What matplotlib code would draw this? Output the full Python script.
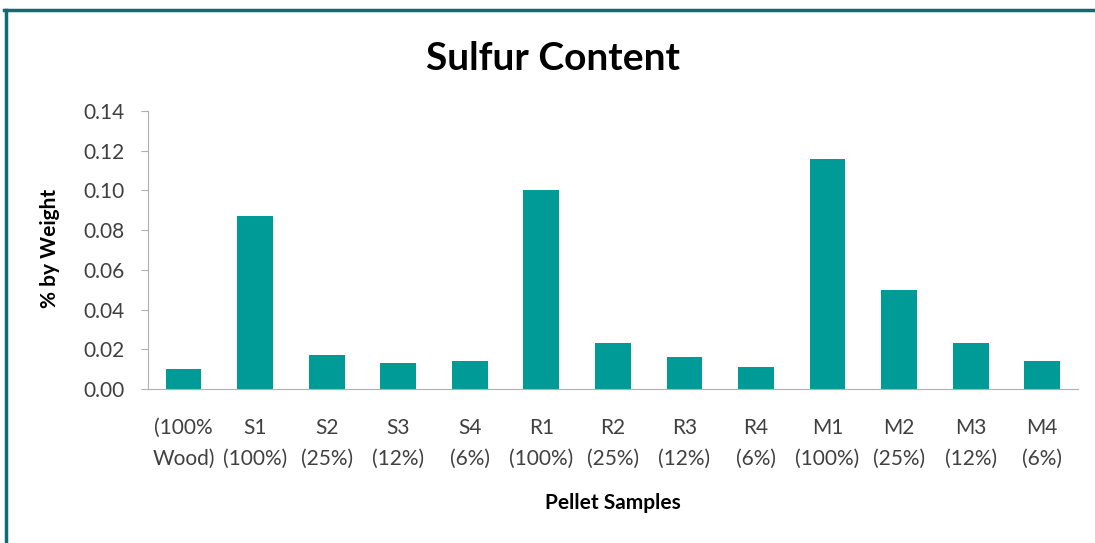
import numpy as np
import matplotlib.pyplot as plt
from matplotlib.lines import Line2D

# Sample labels and sulfur content (% by weight)
samples = ["(100%\nWood)", "S1\n(100%)", "S2\n(25%)", "S3\n(12%)", "S4\n(6%)",
           "R1\n(100%)", "R2\n(25%)", "R3\n(12%)", "R4\n(6%)",
           "M1\n(100%)", "M2\n(25%)", "M3\n(12%)", "M4\n(6%)"]
sulfur = [0.010, 0.087, 0.017, 0.013, 0.014,
          0.100, 0.023, 0.016, 0.011,
          0.116, 0.050, 0.023, 0.014]
yticks = [0.00, 0.02, 0.04, 0.06, 0.08, 0.10, 0.12, 0.14]

plt.rcParams['font.family'] = ['Lato', 'DejaVu Sans']

fig = plt.figure(figsize=(10.95, 5.43), dpi=100)
ax = fig.add_axes([0.135, 0.2836, 0.8495, 0.512])

x = np.arange(len(samples))
ax.bar(x, sulfur, width=0.5, color='#009b97')

ax.set_xlim(-0.5, len(samples) - 0.5)
ax.set_ylim(0, 0.14)
ax.set_yticks(yticks)
ax.set_yticklabels([f"{v:.2f}" for v in yticks])
ax.set_xticks(x)
ax.set_xticklabels(samples, linespacing=1.65)

for s in ['top', 'right']:
    ax.spines[s].set_visible(False)
for s in ['left', 'bottom']:
    ax.spines[s].set_color('#b0b0b0')
ax.tick_params(axis='y', colors='#b0b0b0', labelcolor='#404040', labelsize=15, length=5, pad=12)
ax.tick_params(axis='x', length=0, labelcolor='#404040', labelsize=15, pad=21)

fig.text(0.505, 0.892, "Sulfur Content", ha='center', va='center',
         fontsize=28, fontweight='bold', color='black')
ax.set_xlabel("Pellet Samples", fontsize=15, fontweight='bold')
ax.set_ylabel("% by Weight", fontsize=15, fontweight='bold')
ax.xaxis.set_label_coords(0.5, -0.41)
ax.yaxis.set_label_coords(-0.105, 0.507)
ax.xaxis.label.set_va('center')
ax.yaxis.label.set_va('center')

# dark teal frame on top and left edges
fig.add_artist(Line2D([0.004, 1], [0.9825, 0.9825], transform=fig.transFigure,
                      color='#0e6e6e', linewidth=2.5))
fig.add_artist(Line2D([0.0055, 0.0055], [0, 0.9825], transform=fig.transFigure,
                      color='#0e6e6e', linewidth=2.5))

fig.savefig("out.png", dpi=100)
